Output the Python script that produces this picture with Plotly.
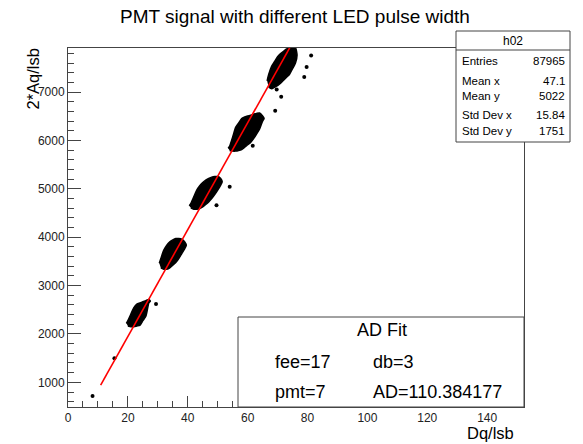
import plotly.graph_objects as go

# ---------------- data ----------------
# 2D-histogram clusters: for each Dq column, lower / upper edge of the filled blob
c1_dq = [20, 21, 22, 23, 24, 25, 26, 27]
c1_lo = [2165, 2150, 2150, 2165, 2178, 2275, 2365, 2641]
c1_hi = [2275, 2413, 2544, 2614, 2639, 2664, 2688, 2713]

c2_dq = [31, 32, 33, 34, 35, 36, 37, 38, 39]
c2_lo = [3365, 3338, 3338, 3365, 3421, 3475, 3557, 3661, 3764]
c2_hi = [3557, 3731, 3834, 3903, 3944, 3971, 3971, 3958, 3903]

c3_dq = [41, 42, 43, 44, 45, 46, 47, 48, 49, 50, 51]
c3_lo = [4606, 4579, 4579, 4592, 4627, 4675, 4730, 4799, 4882, 4972, 5076]
c3_hi = [4695, 4834, 4972, 5062, 5130, 5179, 5213, 5241, 5254, 5254, 5213]

c4_dq = [54, 55, 56, 57, 58, 59, 60, 61, 62, 63, 64, 65]
c4_lo = [5792, 5779, 5779, 5792, 5813, 5858, 5910, 5960, 6036, 6135, 6235, 6400]
c4_hi = [5883, 6069, 6268, 6361, 6454, 6485, 6503, 6522, 6541, 6559, 6566, 6503]

c5_dq = [67, 68, 69, 70, 71, 72, 73, 74, 75, 76]
c5_lo = [7103, 7068, 7097, 7130, 7182, 7244, 7306, 7368, 7482, 7606]
c5_hi = [7360, 7532, 7631, 7731, 7793, 7840, 7890, 7910, 7910, 7910]

# isolated entries
out_dq = [8.2, 15.5, 29.4, 49.6, 54.0, 61.7, 69.2, 69.7, 71.2, 78.9, 79.7, 81.2]
out_aq = [717, 1497, 2620, 4662, 5040, 5889, 6613, 7050, 6900, 7310, 7518, 7757]

# linear fit
AD = 110.384177
fit_intercept = -260.0
fit_x = [10.9, 74.6]

# axes
x_range = [0, 152.3]
y_range = [490, 7910]
x_ticks = [0, 20, 40, 60, 80, 100, 120, 140]
y_ticks = [1000, 2000, 3000, 4000, 5000, 6000, 7000]

# stats box
stats_name = "h02"
stats_labels = ["Entries", "Mean x", "Mean y", "Std Dev x", "Std Dev y"]
stats_values = ["87965", "47.1", "5022", "15.84", "1751"]

title_text = "PMT signal with different LED pulse width"
xtitle = "Dq/lsb"
ytitle = "2*Aq/lsb"

# ---------------- layout geometry (pixels) ----------------
W, H = 583, 444
L, R, T, B = 68, 524, 48, 407
FONT = "Liberation Sans, Arial, Helvetica, sans-serif"


def px(x):
    return (x - L) / (R - L)


def py(y):
    return (B - y) / (B - T)


fig = go.Figure()

# each cluster drawn as the filled outline of its occupied columns
for dq, lo, hi in [(c1_dq, c1_lo, c1_hi), (c2_dq, c2_lo, c2_hi), (c3_dq, c3_lo, c3_hi),
                   (c4_dq, c4_lo, c4_hi), (c5_dq, c5_lo, c5_hi)]:
    xs = [dq[0] - 0.5] + list(dq) + [dq[-1] + 0.5, dq[-1] + 0.5] + list(dq[::-1]) + [dq[0] - 0.5]
    ys = [lo[0]] + list(hi) + [hi[-1], lo[-1]] + list(lo[::-1]) + [lo[0]]
    xs = [dq[0] - 0.5] + list(dq) + [dq[-1] + 0.5] + list(dq[::-1])
    ys = [(lo[0] + hi[0]) / 2] + list(hi) + [(lo[-1] + hi[-1]) / 2] + list(lo[::-1])
    fig.add_trace(go.Scatter(
        x=xs, y=ys, mode="lines", fill="toself", fillcolor="black",
        line=dict(color="black", width=1.5, shape="spline", smoothing=0.6),
        showlegend=False, hoverinfo="skip"))

fig.add_trace(go.Scatter(
    x=out_dq, y=out_aq, mode="markers",
    marker=dict(color="black", size=4, line=dict(width=0)),
    showlegend=False, cliponaxis=True))

fig.add_trace(go.Scatter(
    x=fit_x, y=[AD * v + fit_intercept for v in fit_x], mode="lines",
    line=dict(color="red", width=1.6), showlegend=False))

axis_common = dict(
    showgrid=False, zeroline=False, showline=True, linecolor="#444", linewidth=1,
    mirror=True, ticks="inside", tickcolor="#444", tickwidth=1,
    tickfont=dict(family=FONT, size=12, color="#222"),
)

fig.update_xaxes(range=x_range, tickvals=x_ticks, ticklen=11,
                 minor=dict(dtick=5, tick0=0, ticks="inside", ticklen=6, tickcolor="#444"),
                 **axis_common)
fig.update_yaxes(range=y_range, tickvals=y_ticks, ticklen=13,
                 minor=dict(dtick=200, tick0=0, ticks="inside", ticklen=6, tickcolor="#444"),
                 **axis_common)

shapes = []
annotations = []

# title
annotations.append(dict(x=px(295), y=py(16), xref="paper", yref="paper", text=title_text,
                        showarrow=False, xanchor="center", yanchor="middle",
                        font=dict(family=FONT, size=19, color="black")))
# axis titles
annotations.append(dict(x=px(32), y=py(47), xref="paper", yref="paper", text=ytitle,
                        showarrow=False, textangle=-90, xanchor="center", yanchor="top",
                        font=dict(family=FONT, size=16.5, color="black")))
annotations.append(dict(x=px(516), y=py(433), xref="paper", yref="paper", text=xtitle,
                        showarrow=False, xanchor="right", yanchor="middle",
                        font=dict(family=FONT, size=16.5, color="black")))

# stats box
sx0, sy0, sx1, sy1 = 456, 31, 570, 142
shapes.append(dict(type="rect", xref="paper", yref="paper", x0=px(sx0), x1=px(sx1),
                   y0=py(sy1), y1=py(sy0), line=dict(color="#444", width=1),
                   fillcolor="white", layer="above"))
shapes.append(dict(type="line", xref="paper", yref="paper", x0=px(sx0), x1=px(sx1),
                   y0=py(50), y1=py(50), line=dict(color="#444", width=1), layer="above"))
annotations.append(dict(x=px(513), y=py(40.5), xref="paper", yref="paper", text=stats_name,
                        showarrow=False, xanchor="center", yanchor="middle",
                        font=dict(family=FONT, size=12, color="black")))
row_y = [61, 81, 96, 115, 131]
for lab, val, yy in zip(stats_labels, stats_values, row_y):
    annotations.append(dict(x=px(460), y=py(yy), xref="paper", yref="paper", text=lab,
                            showarrow=False, xanchor="left", yanchor="middle",
                            font=dict(family=FONT, size=11.5, color="black")))
    annotations.append(dict(x=px(567), y=py(yy), xref="paper", yref="paper", text=val,
                            showarrow=False, xanchor="right", yanchor="middle",
                            font=dict(family=FONT, size=11.5, color="black")))

# AD fit box
ax0, ay0, ax1, ay1 = 238, 317, 524, 407
shapes.append(dict(type="rect", xref="paper", yref="paper", x0=px(ax0), x1=px(ax1),
                   y0=py(ay1), y1=py(ay0), line=dict(color="#444", width=1),
                   fillcolor="white", layer="above"))
ad_font = dict(family=FONT, size=18, color="black")
annotations.append(dict(x=px(382), y=py(330), xref="paper", yref="paper", text="AD Fit",
                        showarrow=False, xanchor="center", yanchor="middle", font=ad_font))
annotations.append(dict(x=px(273), y=py(362), xref="paper", yref="paper", text="fee=17",
                        showarrow=False, xanchor="left", yanchor="middle", font=ad_font))
annotations.append(dict(x=px(371), y=py(362), xref="paper", yref="paper", text="db=3",
                        showarrow=False, xanchor="left", yanchor="middle", font=ad_font))
annotations.append(dict(x=px(273), y=py(392), xref="paper", yref="paper", text="pmt=7",
                        showarrow=False, xanchor="left", yanchor="middle", font=ad_font))
annotations.append(dict(x=px(371), y=py(392), xref="paper", yref="paper",
                        text="AD=%.6f" % AD,
                        showarrow=False, xanchor="left", yanchor="middle", font=ad_font))

fig.update_layout(
    width=W, height=H,
    margin=dict(l=L, r=W - R, t=T, b=H - B, pad=0),
    paper_bgcolor="white", plot_bgcolor="white",
    shapes=shapes, annotations=annotations,
    font=dict(family=FONT),
    showlegend=False,
)

fig.write_html("out.html", config={"displayModeBar": False})
